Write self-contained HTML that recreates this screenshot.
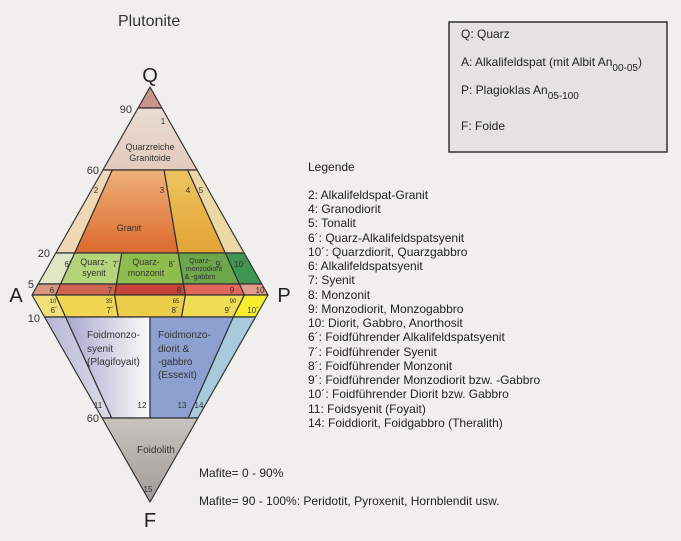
<!DOCTYPE html>
<html><head><meta charset="utf-8"><style>
body{margin:0;background:#f0efed;width:681px;height:541px;overflow:hidden;font-family:"Liberation Sans",sans-serif;}
svg{position:absolute;left:0;top:0}
</style></head><body>
<svg width="681" height="541" viewBox="0 0 681 541" font-family="Liberation Sans, sans-serif">
<defs>
<linearGradient id="gr" x1="0" y1="0" x2="0" y2="1"><stop offset="0" stop-color="#eeb078"/><stop offset="1" stop-color="#dc6a2e"/></linearGradient>
<linearGradient id="g4" x1="0" y1="0" x2="0" y2="1"><stop offset="0" stop-color="#edc460"/><stop offset="1" stop-color="#e3a334"/></linearGradient>
<linearGradient id="fs" x1="0" y1="0" x2="1" y2="0"><stop offset="0" stop-color="#a9a9cf"/><stop offset="1" stop-color="#fafafa"/></linearGradient>
<linearGradient id="f11" x1="0" y1="0" x2="1" y2="0"><stop offset="0" stop-color="#b6b6d6"/><stop offset="1" stop-color="#dcdce8"/></linearGradient>
<linearGradient id="fo" x1="0" y1="0" x2="0" y2="1"><stop offset="0" stop-color="#c7c3bf"/><stop offset="1" stop-color="#a29c98"/></linearGradient>
<linearGradient id="qt" x1="0" y1="0" x2="0" y2="1"><stop offset="0" stop-color="#eadbd2"/><stop offset="1" stop-color="#e2cbbd"/></linearGradient>
</defs>
<g stroke="#333" stroke-width="1.2" stroke-linejoin="round">
<polygon points="150,87 138.1,108 161.9,108" fill="#c8958b"/>
<polygon points="138.1,108 161.9,108 197.1,170 102.9,170" fill="url(#qt)"/>
<polygon points="102.9,170 112.3,170 74.7,253 55.8,253" fill="#f0d8b6"/>
<polygon points="112.3,170 164.1,170 178.2,253 74.7,253" fill="url(#gr)"/>
<polygon points="164.1,170 187.7,170 225.3,253 178.2,253" fill="url(#g4)"/>
<polygon points="187.7,170 197.1,170 244.2,253 225.3,253" fill="#ead9a4"/>
<polygon points="55.8,253 74.7,253 60.6,284 38.2,284" fill="#dfe7c6"/>
<polygon points="74.7,253 121.8,253 116.5,284 60.6,284" fill="#b4d47c"/>
<polygon points="121.8,253 178.2,253 183.5,284 116.5,284" fill="#8fbd4e"/>
<polygon points="178.2,253 225.3,253 239.4,284 183.5,284" fill="#6ea64c"/>
<polygon points="225.3,253 244.2,253 261.8,284 239.4,284" fill="#3f9652"/>
<polygon points="38.2,284 60.6,284 55.6,295 32,295" fill="#d99780"/>
<polygon points="60.6,284 116.5,284 114.6,295 55.6,295" fill="#cc6450"/>
<polygon points="116.5,284 183.5,284 185.4,295 114.6,295" fill="#c8443a"/>
<polygon points="183.5,284 239.4,284 244.4,295 185.4,295" fill="#e2665a"/>
<polygon points="239.4,284 261.8,284 268,295 244.4,295" fill="#e49c8a"/>
<polygon points="32,295 55.6,295 65.6,317 44.5,317" fill="#f0e07a"/>
<polygon points="55.6,295 114.6,295 118.3,317 65.6,317" fill="#efd653"/>
<polygon points="114.6,295 185.4,295 181.6,317 118.3,317" fill="#eccd4a"/>
<polygon points="185.4,295 244.4,295 233.3,317 181.6,317" fill="#f0dc55"/>
<polygon points="244.4,295 268,295 255.5,317 233.3,317" fill="#f5ef30"/>
<polygon points="44.5,317 65.6,317 111.7,418 102.1,418" fill="url(#f11)"/>
<polygon points="65.6,317 150,317 150,418 111.7,418" fill="url(#fs)"/>
<polygon points="150,317 233.3,317 188.3,418 150,418" fill="#8ea0cf"/>
<polygon points="233.3,317 255.5,317 197.9,418 188.3,418" fill="#a9c9dd"/>
<polygon points="102.1,418 197.9,418 150,502" fill="url(#fo)"/>
</g>
<g font-size="20" fill="#222" text-anchor="middle">
<text x="150" y="82">Q</text><text x="16" y="302">A</text><text x="284" y="302">P</text><text x="150" y="527">F</text>
</g>
<text x="118" y="26" font-size="16" fill="#333">Plutonite</text>
<g font-size="11" fill="#333" text-anchor="end">
<text x="132" y="113">90</text><text x="99" y="174">60</text><text x="50" y="257">20</text><text x="34" y="288">5</text><text x="40" y="322">10</text><text x="99" y="422">60</text>
</g>
<g font-size="9" fill="#333" text-anchor="middle">
<text x="150" y="150">Quarzreiche</text><text x="150" y="161">Granitoide</text>
<text x="129" y="231">Granit</text>
<text x="94" y="265">Quarz-</text><text x="94" y="276">syenit</text>
<text x="146" y="265">Quarz-</text><text x="146" y="276">monzonit</text>
<text x="200" y="263" font-size="7">Quarz-</text><text x="204" y="271" font-size="7">monzodiorit</text><text x="200" y="279" font-size="7">&amp; -gabbro</text>
</g>
<g font-size="10" fill="#333">
<text x="87" y="338">Foidmonzo-</text><text x="87" y="352">syenit</text><text x="87" y="365">(Plagifoyait)</text>
<text x="158" y="338">Foidmonzo-</text><text x="158" y="352">diorit &amp;</text><text x="158" y="365">-gabbro</text><text x="158" y="378">(Essexit)</text>
<text x="137" y="453">Foidolith</text>
</g>
<g font-size="8" fill="#333" text-anchor="middle">
<text x="163" y="124">1</text><text x="96" y="193">2</text><text x="162" y="193">3</text><text x="188" y="193">4</text><text x="201" y="193">5</text>
<text x="68" y="267">6´</text><text x="116" y="267">7´</text><text x="172" y="267">8´</text><text x="219" y="267">9´</text><text x="240" y="267">10´</text>
<text x="52" y="293">6</text><text x="110" y="293">7</text><text x="179" y="293">8</text><text x="232" y="293">9</text><text x="260" y="293">10</text>
<text x="53" y="303" font-size="6">10</text><text x="109" y="303" font-size="6">35</text><text x="176" y="303" font-size="6">65</text><text x="233" y="303" font-size="6">90</text>
<text x="54" y="313">6´</text><text x="110" y="313">7´</text><text x="175" y="313">8´</text><text x="228" y="313">9´</text><text x="253" y="313">10´</text>
<text x="98" y="408">11</text><text x="142" y="408">12</text><text x="182" y="408">13</text><text x="199" y="408">14</text>
<text x="148" y="492">15</text>
</g>
<rect x="449" y="22" width="218" height="130" fill="#e4e3e1" stroke="#333" stroke-width="1.5"/>
<g font-size="12" fill="#222">
<text x="461" y="38">Q: Quarz</text>
<text x="461" y="66">A: Alkalifeldspat (mit Albit An<tspan font-size="10" dy="5">00-05</tspan><tspan dy="-5">)</tspan></text>
<text x="461" y="94">P: Plagioklas An<tspan font-size="10" dy="5">05-100</tspan></text>
<text x="461" y="130">F: Foide</text>
</g>
<g font-size="12" fill="#222">
<text x="308" y="171">Legende</text>
<text x="308" y="199">2: Alkalifeldspat-Granit</text>
<text x="308" y="213">4: Granodiorit</text>
<text x="308" y="227">5: Tonalit</text>
<text x="308" y="242">6´: Quarz-Alkalifeldspatsyenit</text>
<text x="308" y="256">10´: Quarzdiorit, Quarzgabbro</text>
<text x="308" y="270">6: Alkalifeldspatsyenit</text>
<text x="308" y="284">7: Syenit</text>
<text x="308" y="299">8: Monzonit</text>
<text x="308" y="313">9: Monzodiorit, Monzogabbro</text>
<text x="308" y="327">10: Diorit, Gabbro, Anorthosit</text>
<text x="308" y="341">6´: Foidführender Alkalifeldspatsyenit</text>
<text x="308" y="356">7´: Foidführender Syenit</text>
<text x="308" y="370">8´: Foidführender Monzonit</text>
<text x="308" y="384">9´: Foidführender Monzodiorit bzw. -Gabbro</text>
<text x="308" y="398">10´: Foidführender Diorit bzw. Gabbro</text>
<text x="308" y="413">11: Foidsyenit (Foyait)</text>
<text x="308" y="427">14: Foiddiorit, Foidgabbro (Theralith)</text>
<text x="199" y="477">Mafite= 0 - 90%</text>
<text x="199" y="505">Mafite= 90 - 100%: Peridotit, Pyroxenit, Hornblendit usw.</text>
</g>
</svg>
</body></html>
